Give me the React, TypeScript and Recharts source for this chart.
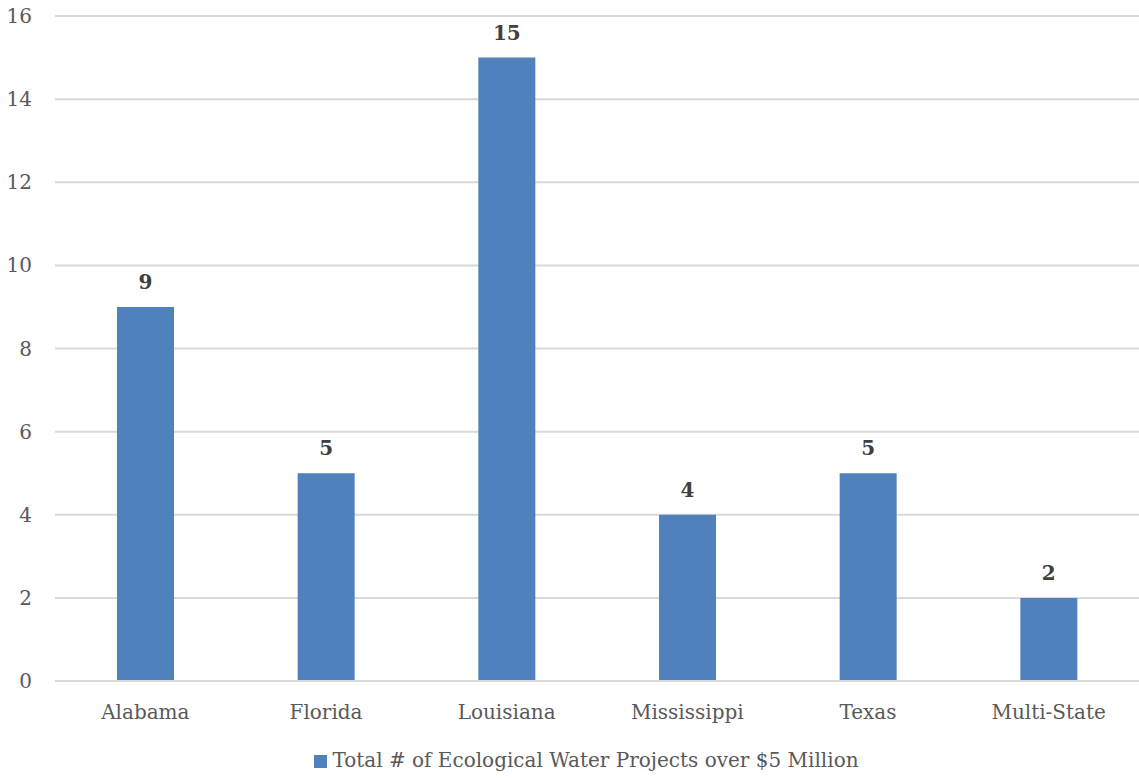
import { BarChart, Bar, XAxis, YAxis, CartesianGrid, Legend, LabelList } from "recharts";

const STATES = ["Alabama", "Florida", "Louisiana", "Mississippi", "Texas", "Multi-State"];
const PROJECTS = [9, 5, 15, 4, 5, 2];
const Y_TICKS = [0, 2, 4, 6, 8, 10, 12, 14, 16];
const SERIES_NAME = "Total # of Ecological Water Projects over $5 Million";

const FONT = "'DejaVu Serif', 'Liberation Serif', serif";

const data = STATES.map((state, i) => ({ state, projects: PROJECTS[i] }));

export default function App() {
  return (
    <div style={{ position: "absolute", left: 0, top: 0, background: "#fff" }}>
      <BarChart
        width={1139}
        height={778}
        data={data}
        margin={{ top: 16, right: 0, left: 0, bottom: 0 }}
        barCategoryGap="0%"
      >
        <CartesianGrid vertical={false} stroke="#d9d9d9" strokeWidth={2} />
        <XAxis
          dataKey="state"
          axisLine={{ stroke: "#d9d9d9", strokeWidth: 2 }}
          tickLine={false}
          tickMargin={18}
          height={55}
          tick={{ fontSize: 20, fill: "#595959", fontFamily: FONT }}
        />
        <YAxis
          domain={[0, 16]}
          ticks={Y_TICKS}
          axisLine={false}
          tickLine={false}
          tickMargin={17}
          width={55}
          tick={{ fontSize: 20, fill: "#595959", fontFamily: FONT }}
        />
        <Legend
          verticalAlign="bottom"
          iconType="square"
          iconSize={13}
          wrapperStyle={{
            fontFamily: FONT,
            fontSize: 20,
            paddingTop: 12,
            paddingBottom: 6,
            paddingLeft: 44,
            boxSizing: "border-box",
          }}
          formatter={(v) => (
            <span style={{ color: "#595959", fontFamily: FONT, fontSize: 20, marginLeft: 1 }}>{v}</span>
          )}
        />
        <Bar dataKey="projects" name={SERIES_NAME} fill="#4f81bd" barSize={57} isAnimationActive={false}>
          <LabelList
            dataKey="projects"
            position="top"
            offset={18}
            style={{ fontFamily: FONT, fontSize: 20, fontWeight: "bold", fill: "#404040" }}
          />
        </Bar>
      </BarChart>
    </div>
  );
}
